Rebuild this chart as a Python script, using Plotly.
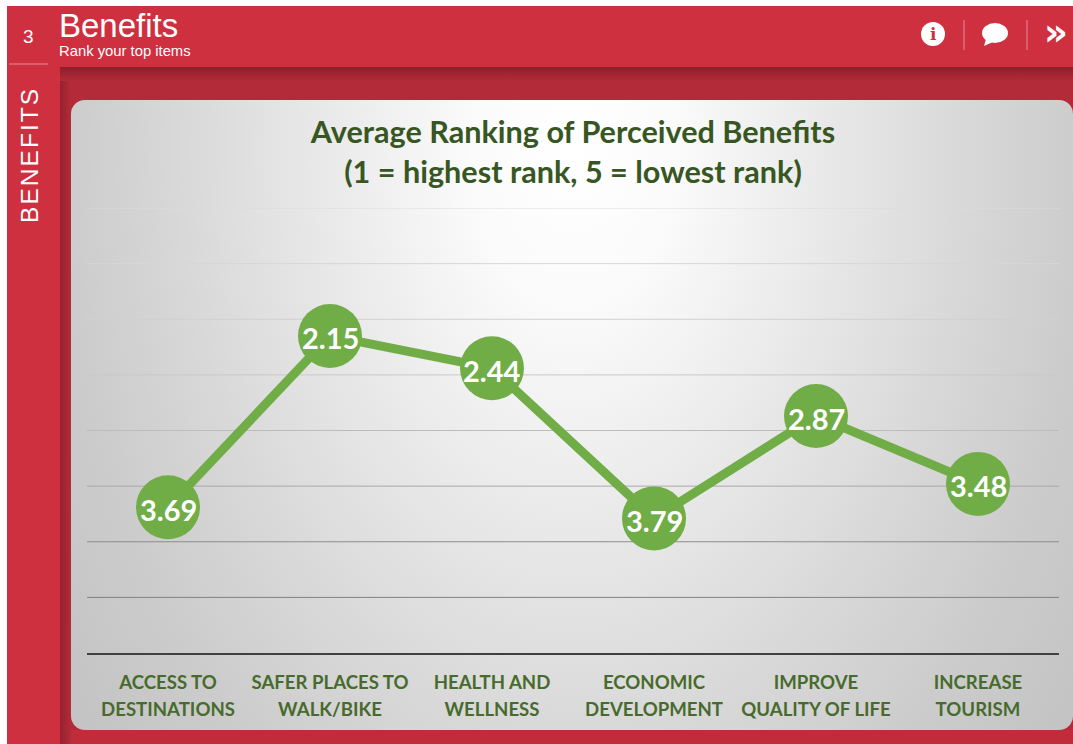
import base64
import plotly.graph_objects as go

# ---- data ----
categories = ["ACCESS TO<br>DESTINATIONS", "SAFER PLACES TO<br>WALK/BIKE", "HEALTH AND<br>WELLNESS",
              "ECONOMIC<br>DEVELOPMENT", "IMPROVE<br>QUALITY OF LIFE", "INCREASE<br>TOURISM"]
rankings = [3.69, 2.15, 2.44, 3.79, 2.87, 3.48]
rank_labels = ["3.69", "2.15", "2.44", "3.79", "2.87", "3.48"]
grid_values = [1.0, 1.5, 2.0, 2.5, 3.0, 3.5, 4.0, 4.5]
grid_colors = ["#dcdcdc", "#d6d6d6", "#d0d0d0", "#c8c8c8", "#bcbcbc", "#a8a8a8", "#8c8c8c", "#808080"]

W, H = 1073, 744
L, R, T, B = 87, 14, 208, 91
PW, PH = W - L - R, H - T - B
px = lambda x: (x - L) / PW
py = lambda y: (H - B - y) / PH

RED = "#cf3040"

svg = f'''<svg xmlns="http://www.w3.org/2000/svg" width="{W}" height="{H}" viewBox="0 0 {W} {H}">
<defs>
<radialGradient id="card" gradientUnits="userSpaceOnUse" cx="573" cy="150" r="620"
 gradientTransform="translate(573 150) scale(1 1.5) translate(-573 -150)">
<stop offset="0" stop-color="#ffffff"/><stop offset="0.16" stop-color="#fbfbfb"/>
<stop offset="0.5" stop-color="#e2e2e2"/><stop offset="0.65" stop-color="#d7d7d7"/>
<stop offset="0.82" stop-color="#cccccc"/><stop offset="1" stop-color="#c4c4c4"/>
</radialGradient>
<linearGradient id="top" x1="0" y1="0" x2="0" y2="1"><stop offset="0" stop-color="#8c1f2a"/><stop offset="1" stop-color="#b32b38"/></linearGradient>
<linearGradient id="left" x1="0" y1="0" x2="1" y2="0"><stop offset="0" stop-color="#94222d"/><stop offset="1" stop-color="#b32b38"/></linearGradient>
</defs>
<rect width="{W}" height="{H}" fill="#ffffff"/>
<rect x="7" y="6" width="{W-7}" height="{H-6}" fill="{RED}"/>
<rect x="60" y="67" width="{W-60}" height="{H-67}" fill="#b32b38"/>
<rect x="60" y="67" width="11" height="{H-67}" fill="url(#left)"/>
<rect x="60" y="67" width="{W-60}" height="14" fill="url(#top)"/>
<rect x="71" y="730" width="{W-71}" height="14" fill="#c22b39"/>
<rect x="71" y="100" width="1002" height="630" rx="14" ry="14" fill="url(#card)"/>
</svg>'''
bg_uri = "data:image/svg+xml;base64," + base64.b64encode(svg.encode()).decode()

fig = go.Figure()
fig.add_trace(go.Scatter(
    x=categories, y=rankings,
    mode="lines+markers",
    line=dict(color="#70ad47", width=9),
    marker=dict(color="#70ad47", size=64, line=dict(width=0)),
    hoverinfo="skip", cliponaxis=False, showlegend=False,
))

shapes = [dict(type="line", xref="paper", yref="y", x0=0, x1=1, y0=v, y1=v,
               line=dict(color=c, width=1), layer="below")
          for v, c in zip(grid_values, grid_colors)]


def pshape(kind, x0, y0, x1, y1, color, **kw):
    return dict(type=kind, xref="paper", yref="paper", x0=px(x0), x1=px(x1), y0=py(y0), y1=py(y1),
                fillcolor=color, line=dict(width=0), layer="above", **kw)


shapes += [
    pshape("circle", 921, 22, 945, 46, "#ffffff"),
    pshape("circle", 982, 23, 1008, 43, "#ffffff"),
    dict(type="path", xref="paper", yref="paper",
         path=f"M {px(986)} {py(39)} L {px(984)} {py(46)} L {px(993)} {py(42)} Z",
         fillcolor="#ffffff", line=dict(width=0), layer="above"),
]
for xd in (964, 1027):
    shapes.append(dict(type="line", xref="paper", yref="paper", x0=px(xd), x1=px(xd), y0=py(20), y1=py(50),
                       line=dict(color="#e58a94", width=1), layer="above"))
shapes.append(dict(type="line", xref="paper", yref="paper", x0=px(9), x1=px(48), y0=py(64), y1=py(64),
                   line=dict(color="#e58a94", width=1), layer="above"))


def label(text, x, y, size, family="Liberation Sans", color="#ffffff", xanchor="left", angle=0, weight=None):
    return dict(text=text, xref="paper", yref="paper", x=px(x), y=py(y), xanchor=xanchor, yanchor="middle",
                showarrow=False, textangle=angle, borderpad=0, borderwidth=0,
                font=dict(family=family, size=size, color=color, weight=weight))


annotations = [
    label("Benefits", 59, 25, 33),
    label("Rank your top items", 59, 51, 14.8),
    label("3", 28, 36, 19, xanchor="center"),
    label("\u200aB\u200aE\u200aN\u200aE\u200aF\u200aI\u200aT\u200aS", 29, 157, 24.5, xanchor="center", angle=-90),
    label("i", 933, 34, 17, family="DejaVu Serif", color=RED, xanchor="center", weight="bold"),
    label("\u00bb", 1056, 33, 37, family="DejaVu Sans", xanchor="center", weight="bold"),
]
for cat, val, txt in zip(categories, rankings, rank_labels):
    annotations.append(dict(text=txt, x=cat, y=val, xref="x", yref="y", showarrow=False, yshift=-2,
                            font=dict(family="Lato", size=29, color="#ffffff", weight="bold")))

span_open = '<span style="font-size:18.6px">'
tick_text = [span_open + c.replace("<br>", "</span><br>" + span_open) + "</span>" for c in categories]

fig.update_layout(
    width=W, height=H, autosize=False,
    margin=dict(l=L, r=R, t=T, b=B, pad=0),
    paper_bgcolor="#ffffff", plot_bgcolor="rgba(0,0,0,0)",
    title=dict(text="Average Ranking of Perceived Benefits<br>(1 = highest rank, 5 = lowest rank)",
               x=0.5, xref="paper", xanchor="center", y=1 - 143 / H, yref="container", yanchor="top",
               font=dict(family="Lato", size=30.6, color="#375623", weight="bold")),
    xaxis=dict(type="category", categoryorder="array", categoryarray=categories,
               tickmode="array", tickvals=categories, ticktext=tick_text,
               range=[-0.5, 5.5], showgrid=False, zeroline=False, showline=True,
               linecolor="#404040", linewidth=2, ticks="", tickangle=0, ticklabelstandoff=9,
               tickfont=dict(family="Lato", size=20.8, color="#476b2c", weight="bold")),
    yaxis=dict(range=[5, 1], showgrid=False, zeroline=False, showline=False,
               showticklabels=False, ticks=""),
    images=[dict(source=bg_uri, xref="paper", yref="paper", x=px(0), y=py(0), sizex=W / PW, sizey=H / PH,
                 xanchor="left", yanchor="top", sizing="stretch", layer="below")],
    shapes=shapes, annotations=annotations,
)

fig.write_html("out.html", config={"displayModeBar": False},
               post_script="document.body.style.margin='0';document.documentElement.style.overflow='hidden';")
